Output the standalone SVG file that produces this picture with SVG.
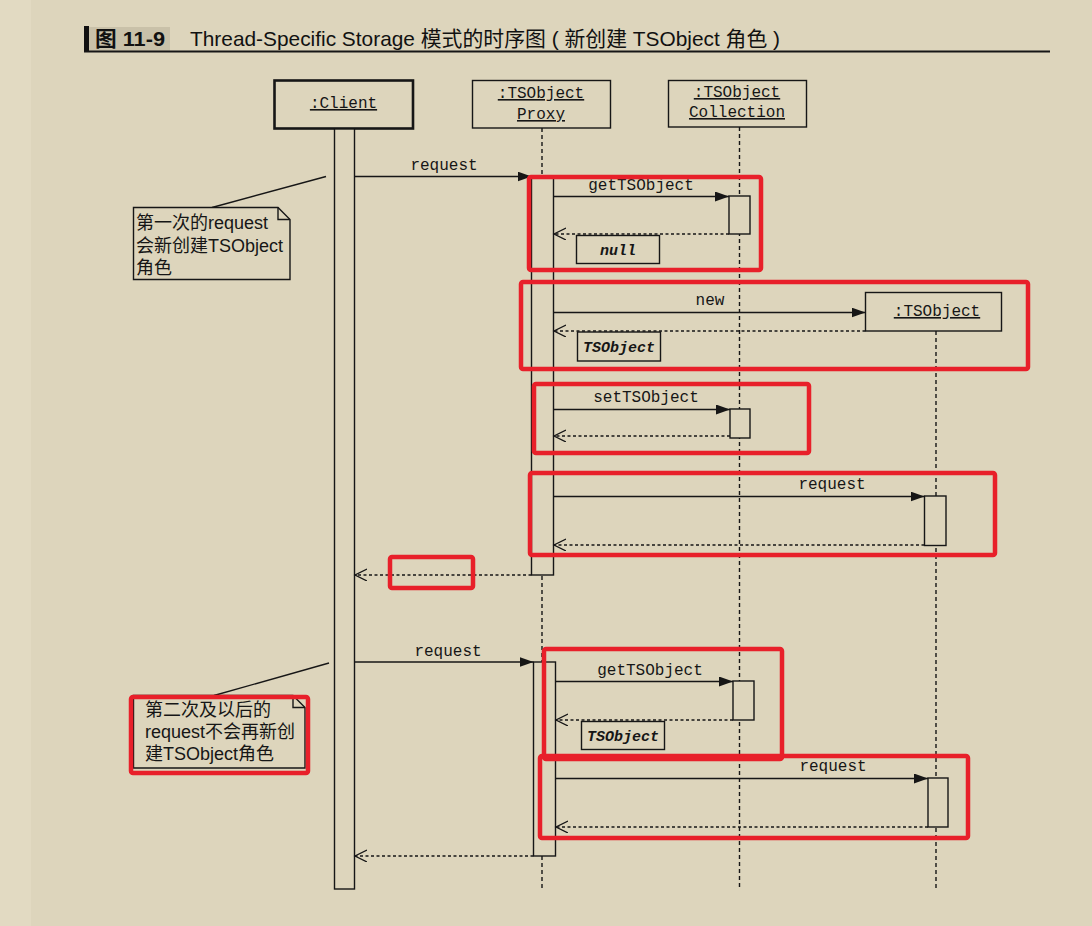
<svg xmlns="http://www.w3.org/2000/svg" width="1092" height="926" viewBox="0 0 1092 926">
<defs>
<style>
.ln{stroke:#161616;stroke-width:1.4;fill:none}
.box{fill:none;stroke:#161616;stroke-width:1.4}
.act{fill:#ddd5bc;stroke:#161616;stroke-width:1.4}
.life{stroke:#161616;stroke-width:1.4;stroke-dasharray:4 3;fill:none}
.sync{stroke:#161616;stroke-width:1.4;fill:none;marker-end:url(#fill)}
.ret{stroke:#161616;stroke-width:1.4;stroke-dasharray:3 2.5;fill:none;marker-end:url(#open)}
.mono{font-family:"Liberation Mono","DejaVu Sans Mono",monospace;font-size:16px;fill:#161616}
.it{font-style:italic;font-weight:bold;font-size:15px}
.u{text-decoration:underline}
.note{font-family:"Liberation Sans","Noto Sans CJK SC",sans-serif;font-size:18px;fill:#161616}
.red{fill:none;stroke:#e8202a;stroke-width:4.5}
.notebox{fill:#ddd5bc;stroke:#161616;stroke-width:1.4}
</style>
<marker id="fill" markerUnits="userSpaceOnUse" markerWidth="15" markerHeight="11" refX="14" refY="5" orient="auto" viewBox="0 0 15 11">
<path d="M0,0 L14,5 L0,10 z" fill="#161616"/>
</marker>
<marker id="open" markerUnits="userSpaceOnUse" markerWidth="14" markerHeight="14" refX="12" refY="6" orient="auto" viewBox="0 0 14 14">
<path d="M0,0 L12,6 L0,12" fill="none" stroke="#161616" stroke-width="1.3"/>
</marker>
</defs>
<rect x="0" y="0" width="1092" height="926" fill="#ddd5bc"/>
<rect x="0" y="0" width="31" height="926" fill="#e2dac2"/>
<g id="title">
<rect x="84" y="26" width="5" height="25" fill="#111"/>
<rect x="89" y="27" width="81" height="24" fill="#c9c1a9"/>
<line x1="84" y1="51.5" x2="1050" y2="51.5" stroke="#161616" stroke-width="2"/>
<text x="95" y="46" font-family="Liberation Sans,'Noto Sans CJK SC',sans-serif" font-size="21" font-weight="bold" fill="#111" textLength="70" lengthAdjust="spacingAndGlyphs">图 11-9</text>
<text x="190" y="46" font-family="Liberation Sans,'Noto Sans CJK SC',sans-serif" font-size="21" fill="#111" textLength="590" lengthAdjust="spacingAndGlyphs">Thread-Specific Storage 模式的时序图 ( 新创建 TSObject 角色 )</text>
</g>
<g id="client">
<rect x="274.5" y="80.5" width="138.5" height="48" fill="none" stroke="#161616" stroke-width="2.6"/>
<text class="mono u" x="343.5" y="108" text-anchor="middle">:Client</text>
<rect class="act" x="334.5" y="129" width="20" height="760"/>
</g>
<g id="proxy">
<rect class="box" x="472.5" y="80.5" width="138" height="47.5"/>
<text class="mono u" x="541" y="98" text-anchor="middle">:TSObject</text>
<text class="mono u" x="541" y="119" text-anchor="middle">Proxy</text>
<line class="life" x1="542" y1="128" x2="542" y2="888"/>
<rect class="act" x="531.5" y="176.5" width="22" height="398.5"/>
<rect class="act" x="533.5" y="662" width="22" height="194"/>
</g>
<g id="collection">
<rect class="box" x="668.5" y="80.5" width="138" height="46.5"/>
<text class="mono u" x="737" y="97" text-anchor="middle">:TSObject</text>
<text class="mono u" x="737" y="117" text-anchor="middle">Collection</text>
<line class="life" x1="739.5" y1="127" x2="739.5" y2="888"/>
<rect class="act" x="729" y="196" width="21" height="38"/>
<rect class="act" x="730" y="409" width="20" height="29"/>
<rect class="act" x="733" y="681" width="21" height="39"/>
</g>
<g id="tsobject">
<rect class="box" x="865.5" y="292.5" width="136" height="38.5"/>
<text class="mono u" x="937" y="316" text-anchor="middle">:TSObject</text>
<line class="life" x1="936" y1="331" x2="936" y2="888"/>
<rect class="act" x="924.5" y="496" width="21.5" height="49.5"/>
<rect class="act" x="928" y="778" width="20" height="49"/>
</g>
<g id="connectors">
<line class="sync" x1="354.5" y1="176.5" x2="531.5" y2="176.5"/>
<text class="mono" x="444" y="170" text-anchor="middle">request</text>
<line class="sync" x1="553.5" y1="196.5" x2="729" y2="196.5"/>
<text class="mono" x="641" y="190" text-anchor="middle">getTSObject</text>
<line class="ret" x1="729" y1="234" x2="554" y2="234"/>
<rect class="box" x="576.5" y="235.5" width="83" height="28"/>
<text class="mono it" x="618" y="255" text-anchor="middle">null</text>
<line class="sync" x1="553.5" y1="312.5" x2="865.5" y2="312.5"/>
<text class="mono" x="710" y="305" text-anchor="middle">new</text>
<line class="ret" x1="865.5" y1="331" x2="554" y2="331"/>
<rect class="box" x="577.5" y="332" width="83" height="29"/>
<text class="mono it" x="619" y="352" text-anchor="middle">TSObject</text>
<line class="sync" x1="553.5" y1="409.5" x2="730" y2="409.5"/>
<text class="mono" x="646" y="402" text-anchor="middle">setTSObject</text>
<line class="ret" x1="730" y1="436" x2="554" y2="436"/>
<line class="sync" x1="553.5" y1="496.5" x2="924.5" y2="496.5"/>
<text class="mono" x="832" y="489" text-anchor="middle">request</text>
<line class="ret" x1="924.5" y1="545" x2="554" y2="545"/>
<line class="ret" x1="531.5" y1="575" x2="355" y2="575"/>
<line class="sync" x1="354.5" y1="662" x2="533.5" y2="662"/>
<text class="mono" x="448" y="656" text-anchor="middle">request</text>
<line class="sync" x1="555.5" y1="681.5" x2="733" y2="681.5"/>
<text class="mono" x="650" y="675" text-anchor="middle">getTSObject</text>
<line class="ret" x1="733" y1="720" x2="556" y2="720"/>
<rect class="box" x="581.5" y="721.5" width="83" height="28"/>
<text class="mono it" x="623" y="741" text-anchor="middle">TSObject</text>
<line class="sync" x1="555.5" y1="778.5" x2="928" y2="778.5"/>
<text class="mono" x="833" y="771" text-anchor="middle">request</text>
<line class="ret" x1="928" y1="827" x2="556" y2="827"/>
<line class="ret" x1="533.5" y1="856" x2="355" y2="856"/>
</g>
<g id="note1">
<line class="ln" x1="212" y1="207.5" x2="326" y2="176.5"/>
<path class="notebox" d="M133.5,207.5 H278 L290,219.5 V279.5 H133.5 Z"/>
<path class="ln" d="M278,207.5 V219.5 H290"/>
<text class="note" x="136" y="229">第一次的request</text>
<text class="note" x="136" y="252">会新创建TSObject</text>
<text class="note" x="136" y="274">角色</text>
</g>
<g id="note2">
<line class="ln" x1="214" y1="695.5" x2="329" y2="663"/>
<path class="notebox" d="M133.5,695.5 H293 L305,707.5 V768 H133.5 Z"/>
<path class="ln" d="M293,695.5 V707.5 H305"/>
<text class="note" x="145" y="716">第二次及以后的</text>
<text class="note" x="145" y="738">request不会再新创</text>
<text class="note" x="145" y="760">建TSObject角色</text>
</g>
<g id="highlights">
<rect class="red" x="529" y="177" width="232" height="93" rx="2"/>
<rect class="red" x="521" y="282" width="507" height="87" rx="2"/>
<rect class="red" x="534" y="384" width="275" height="69" rx="2"/>
<rect class="red" x="530" y="473" width="465" height="82" rx="2"/>
<rect class="red" x="390" y="557" width="83" height="31" rx="2"/>
<rect class="red" x="544" y="649" width="238" height="110" rx="2"/>
<rect class="red" x="540" y="756" width="428" height="82" rx="2"/>
<rect class="red" x="131" y="697" width="177" height="76" rx="2"/>
</g>
</svg>
